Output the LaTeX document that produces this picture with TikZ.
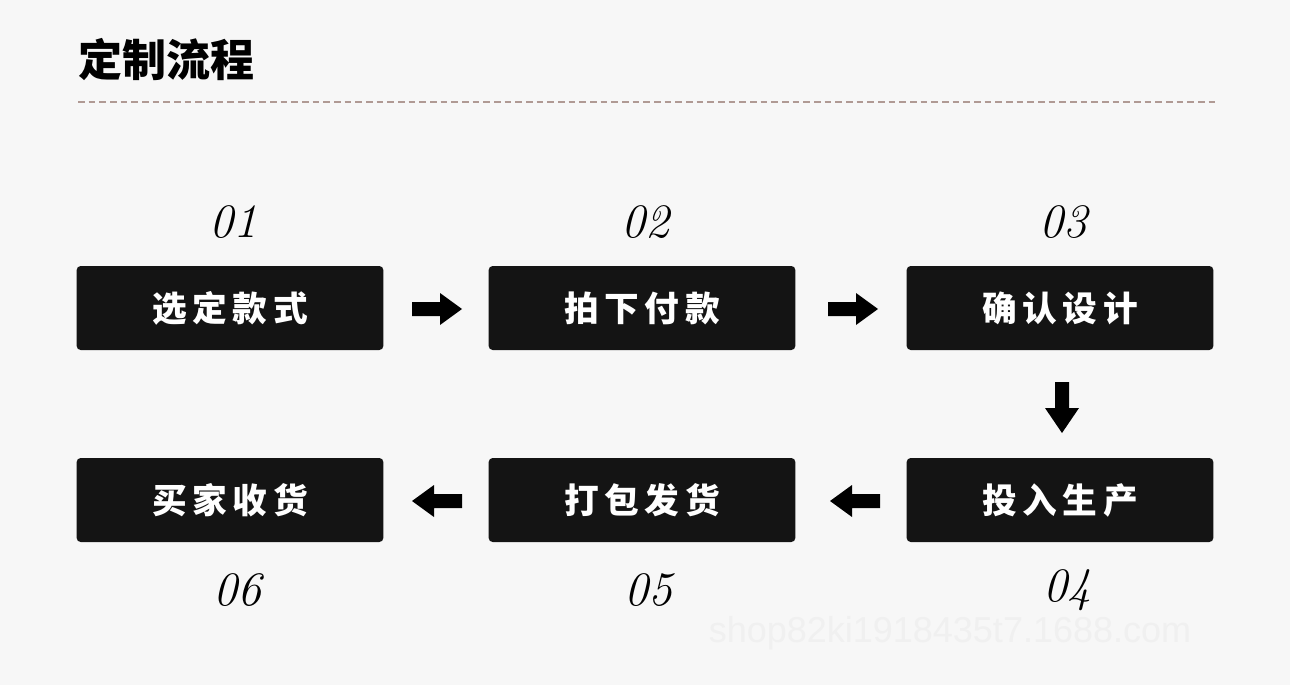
\documentclass[tikz,border=0pt]{standalone}
\usepackage{fontspec}
\newfontfamily\cjk{Noto Sans CJK SC}
\newfontfamily\wm{Liberation Sans}
\definecolor{bg}{HTML}{F7F7F7}
\definecolor{boxc}{HTML}{141414}
\definecolor{dashc}{HTML}{B09A94}
\tikzset{
  stepbox/.style={fill=boxc,rounded corners=3pt,minimum width=230pt,minimum height=63pt,inner sep=0pt,text=white,font=\cjk\bfseries\fontsize{26}{28}\selectfont},
  numlab/.style={font=\itshape\fontsize{36}{38}\selectfont,text=black},
  blk/.style={fill=black,draw=none}
}
\begin{document}
\begin{tikzpicture}[x=0.75pt,y=-0.75pt]
\fill[bg] (0,0) rectangle (1290,685);
\useasboundingbox (0,0) rectangle (1290,685);
\node[anchor=west,font=\cjk\bfseries\fontsize{33}{35}\selectfont] (title) at (74,60) {定制流程};
\coordinate (dl) at (78,102); \coordinate (dr) at (1215,102);
\draw[dashc,dash pattern=on 5pt off 3pt,line width=0.8pt] (dl) -- (dr);
\node[stepbox] (s1) at (230,308) {选\,定\,款\,式};
\node[stepbox] (s2) at (642,308) {拍\,下\,付\,款};
\node[stepbox] (s3) at (1060,308) {确\,认\,设\,计};
\node[stepbox] (s4) at (1060,500) {投\,入\,生\,产};
\node[stepbox] (s5) at (642,500) {打\,包\,发\,货};
\node[stepbox] (s6) at (230,500) {买\,家\,收\,货};
\node[numlab] (n1) at (233,222) {01};
\node[numlab] (n2) at (645,222) {02};
\node[numlab] (n3) at (1063,222) {03};
\node[numlab] (n4) at (1067,590) {04};
\node[numlab] (n5) at (648,590) {05};
\node[numlab] (n6) at (237,590) {06};
% right arrows
\foreach \x in {412,828}{
  \fill[blk] (\x,302) -- (\x+28,302) -- (\x+28,293) -- (\x+50,309) -- (\x+28,325) -- (\x+28,316) -- (\x,316) -- cycle;
}
% left arrows
\foreach \x in {412,830}{
  \fill[blk] (\x+50,494) -- (\x+22,494) -- (\x+22,485) -- (\x,501) -- (\x+22,517) -- (\x+22,508) -- (\x+50,508) -- cycle;
}
% down arrow
\fill[blk] (1055,382) -- (1055,408) -- (1045,408) -- (1062,433) -- (1079,408) -- (1069,408) -- (1069,382) -- cycle;
\node[anchor=center,font=\wm\fontsize{27}{29}\selectfont,text=white!88!gray] (wmark) at (950,633) {shop82ki1918435t7.1688.com};
\end{tikzpicture}
\end{document}
